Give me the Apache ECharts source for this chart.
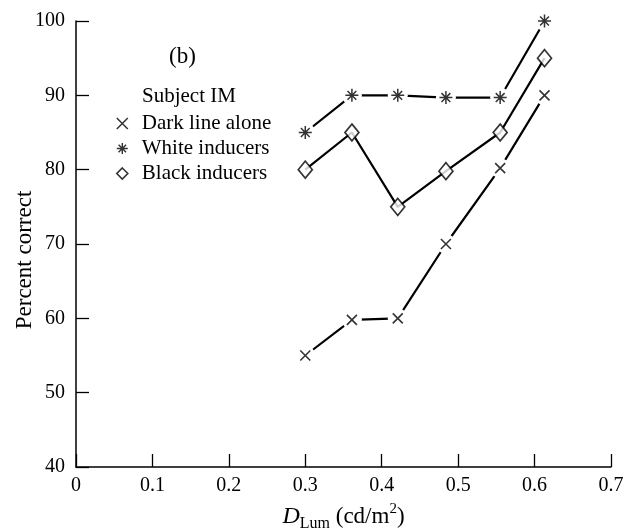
<!DOCTYPE html>
<html>
<head>
<meta charset="utf-8">
<script src="https://cdn.jsdelivr.net/npm/echarts@6/dist/echarts.min.js"></script>
<style>
html,body{margin:0;padding:0;background:#fff;}
#c{width:629px;height:531px;}
</style>
</head>
<body>
<div id="c"></div>
<script>
// Data
const xValues = [0.300, 0.361, 0.421, 0.484, 0.555, 0.613];
const darkLineAlone = [55, 59.8, 60, 70, 80.2, 90];
const whiteInducers = [85, 90, 90, 89.7, 89.7, 100];
const blackInducers = [80, 85, 75, 79.8, 85, 95];
const seriesNames = ['Dark line alone', 'White inducers', 'Black inducers'];
const xTickLabels = ['0', '0.1', '0.2', '0.3', '0.4', '0.5', '0.6', '0.7'];
const yTickLabels = ['40', '50', '60', '70', '80', '90', '100'];

const FONT = '"Liberation Serif", "DejaVu Serif", serif';
const crossPath = 'path://M0,0L10,10M10,0L0,10';
const starPath = 'path://M5,0L5,10M0,5L10,5M1.6,1.6L8.4,8.4M8.4,1.6L1.6,8.4';

function pts(ys) { return xValues.map((x, i) => [x, ys[i]]); }

const chart = echarts.init(document.getElementById('c'), null, {renderer: 'canvas'});

// line with white "gap" discs at each point (drawn by the line series itself)
function lineSeries(ys, id, gap) {
  return {
    type: 'line', id: id, data: pts(ys),
    symbol: gap ? 'circle' : 'none', symbolSize: 20, showSymbol: !!gap,
    itemStyle: {color: '#fff', borderWidth: 0, borderColor: '#fff'},
    lineStyle: {color: '#000', width: 2.2}, z: 2, silent: true, animation: false
  };
}

chart.setOption({
  animation: false,
  backgroundColor: '#fff',
  grid: {left: 76, right: 18, top: 21, bottom: 64, containLabel: false, outerBoundsMode: 'none'},
  xAxis: {
    type: 'value', min: 0, max: 0.7, interval: 0.1,
    axisLine: {show: true, lineStyle: {color: '#000', width: 1.5}},
    axisTick: {show: true, inside: true, length: 13, lineStyle: {color: '#000', width: 1.3}},
    splitLine: {show: false},
    axisLabel: {
      color: '#000', fontFamily: FONT, fontSize: 20, margin: 9,
      formatter: function (v) { return xTickLabels[Math.round(v * 10)]; }
    },
    name: '{i|D}{sub|Lum}{n| (cd/m}{sup|2}{n|)}',
    nameLocation: 'middle', nameGap: 35, nameMoveOverlap: false,
    nameTextStyle: {
      color: '#000', fontFamily: FONT, fontSize: 23,
      rich: {
        i: {fontStyle: 'italic', fontFamily: FONT, fontSize: 24, color: '#000', lineHeight: 30, verticalAlign: 'middle'},
        sub: {fontFamily: FONT, fontSize: 16, color: '#000', lineHeight: 30, verticalAlign: 'bottom'},
        n: {fontFamily: FONT, fontSize: 23, color: '#000', lineHeight: 30, verticalAlign: 'middle'},
        sup: {fontFamily: FONT, fontSize: 15, color: '#000', lineHeight: 30, verticalAlign: 'top'}
      }
    }
  },
  yAxis: {
    type: 'value', min: 40, max: 100, interval: 10,
    axisLine: {show: true, lineStyle: {color: '#000', width: 1.5}},
    axisTick: {show: true, inside: true, length: 13, lineStyle: {color: '#000', width: 1.3}},
    splitLine: {show: false},
    axisLabel: {
      color: '#000', fontFamily: FONT, fontSize: 20, margin: 11,
      formatter: function (v) { return yTickLabels[Math.round((v - 40) / 10)]; }
    },
    name: 'Percent correct', nameLocation: 'middle', nameRotate: 90, nameGap: 40, nameMoveOverlap: false,
    nameTextStyle: {color: '#000', fontFamily: FONT, fontSize: 23, padding: [0, 32, 0, 0]}
  },
  legend: {
    orient: 'vertical', left: 116, top: 113, padding: 0, itemWidth: 11, itemHeight: 11, itemGap: 4,
    selectedMode: false,
    textStyle: {color: '#000', fontFamily: FONT, fontSize: 21, lineHeight: 21, padding: [0, 0, 0, 9]},
    data: [
      {name: seriesNames[0], icon: crossPath, itemStyle: {color: 'rgba(0,0,0,0)', borderColor: '#000', borderWidth: 1.5}},
      {name: seriesNames[1], icon: starPath, itemStyle: {color: 'rgba(0,0,0,0)', borderColor: '#000', borderWidth: 1.4}},
      {name: seriesNames[2], icon: 'diamond', itemStyle: {color: '#fff', borderColor: '#000', borderWidth: 1.6}}
    ]
  },
  graphic: [
    {type: 'text', left: 169, top: 45, style: {text: '(b)', font: '23px ' + FONT, fill: '#000'}},
    {type: 'text', left: 142, top: 86, style: {text: 'Subject IM', font: '21px ' + FONT, fill: '#000'}}
  ],
  series: [
    lineSeries(darkLineAlone, 'l0', true),
    lineSeries(whiteInducers, 'l1', true),
    lineSeries(blackInducers, 'l2', false),
    {
      type: 'scatter', name: seriesNames[0], data: pts(darkLineAlone), symbol: crossPath, symbolSize: 10,
      itemStyle: {color: 'rgba(0,0,0,0)', borderColor: '#000', borderWidth: 1.6}, z: 5
    },
    {
      type: 'scatter', name: seriesNames[1], data: pts(whiteInducers), symbol: starPath, symbolSize: 13,
      itemStyle: {color: 'rgba(0,0,0,0)', borderColor: '#000', borderWidth: 1.5}, z: 5
    },
    {
      type: 'scatter', name: seriesNames[2], data: pts(blackInducers), symbol: 'diamond', symbolSize: [14, 17],
      itemStyle: {color: '#fff', borderColor: '#000', borderWidth: 1.7}, z: 5
    }
  ]
});
</script>
</body>
</html>
